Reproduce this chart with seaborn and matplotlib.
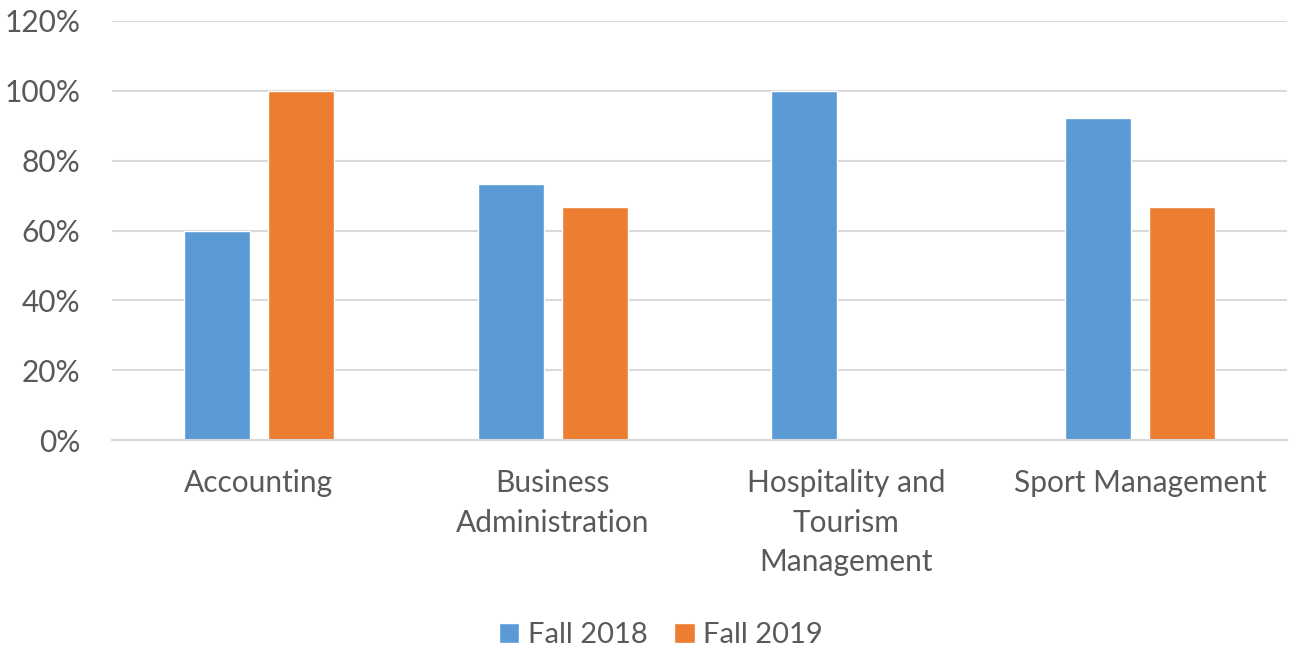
import matplotlib
matplotlib.use("Agg")
import matplotlib.pyplot as plt
import seaborn as sns
import pandas as pd
import numpy as np
from matplotlib.ticker import PercentFormatter
from matplotlib.patches import Patch

categories = ["Accounting", "Business\nAdministration",
              "Hospitality and\nTourism\nManagement", "Sport Management"]
fall_2018 = [0.60, 0.733, 1.00, 0.923]
fall_2019 = [1.00, 0.667, np.nan, 0.667]
series_names = ["Fall 2018", "Fall 2019"]
colors = ["#5B9BD5", "#ED7D31"]

df = pd.DataFrame({
    "Program": categories * 2,
    "Term": [series_names[0]] * 4 + [series_names[1]] * 4,
    "Rate": fall_2018 + fall_2019,
})

sns.set_theme(style="white")
plt.rcParams["font.family"] = ["Lato", "DejaVu Sans"]

fig = plt.figure(figsize=(12.92, 6.54), dpi=100)
ax = fig.add_axes([0.0867, 0.3272, 0.9094, 0.6407])

sns.barplot(data=df, x="Program", y="Rate", hue="Term", order=categories,
            hue_order=series_names, palette=colors, width=0.572, gap=0.214,
            errorbar=None, ax=ax, legend=False, saturation=1)

ax.set_ylim(0, 1.2)
ax.set_yticks(np.arange(0, 1.21, 0.2))
ax.yaxis.set_major_formatter(PercentFormatter(1.0, decimals=0))
ax.set_xlim(-0.5, 3.5)
ax.grid(axis="y", color="#D9D9D9", linewidth=1.5)
ax.set_axisbelow(True)
for s in ["top", "right", "left"]:
    ax.spines[s].set_visible(False)
ax.spines["bottom"].set_color("#D9D9D9")
ax.spines["bottom"].set_linewidth(1.5)
ax.tick_params(axis="both", length=0, labelsize=21.5, labelcolor="#595959")
ax.tick_params(axis="x", pad=21)
ax.tick_params(axis="y", pad=23)
for lbl in ax.get_xticklabels():
    lbl.set_linespacing(1.5)
ax.set_xlabel("")
ax.set_ylabel("")

handles = [Patch(facecolor=c, label=n) for c, n in zip(colors, series_names)]
fig.legend(handles=handles, loc="center", bbox_to_anchor=(0.5116, 0.029), ncol=2,
           frameon=False, fontsize=21, labelcolor="#595959", handlelength=0.7,
           handleheight=0.7, handletextpad=0.3, columnspacing=0.9)

fig.savefig("out.png", dpi=100)
